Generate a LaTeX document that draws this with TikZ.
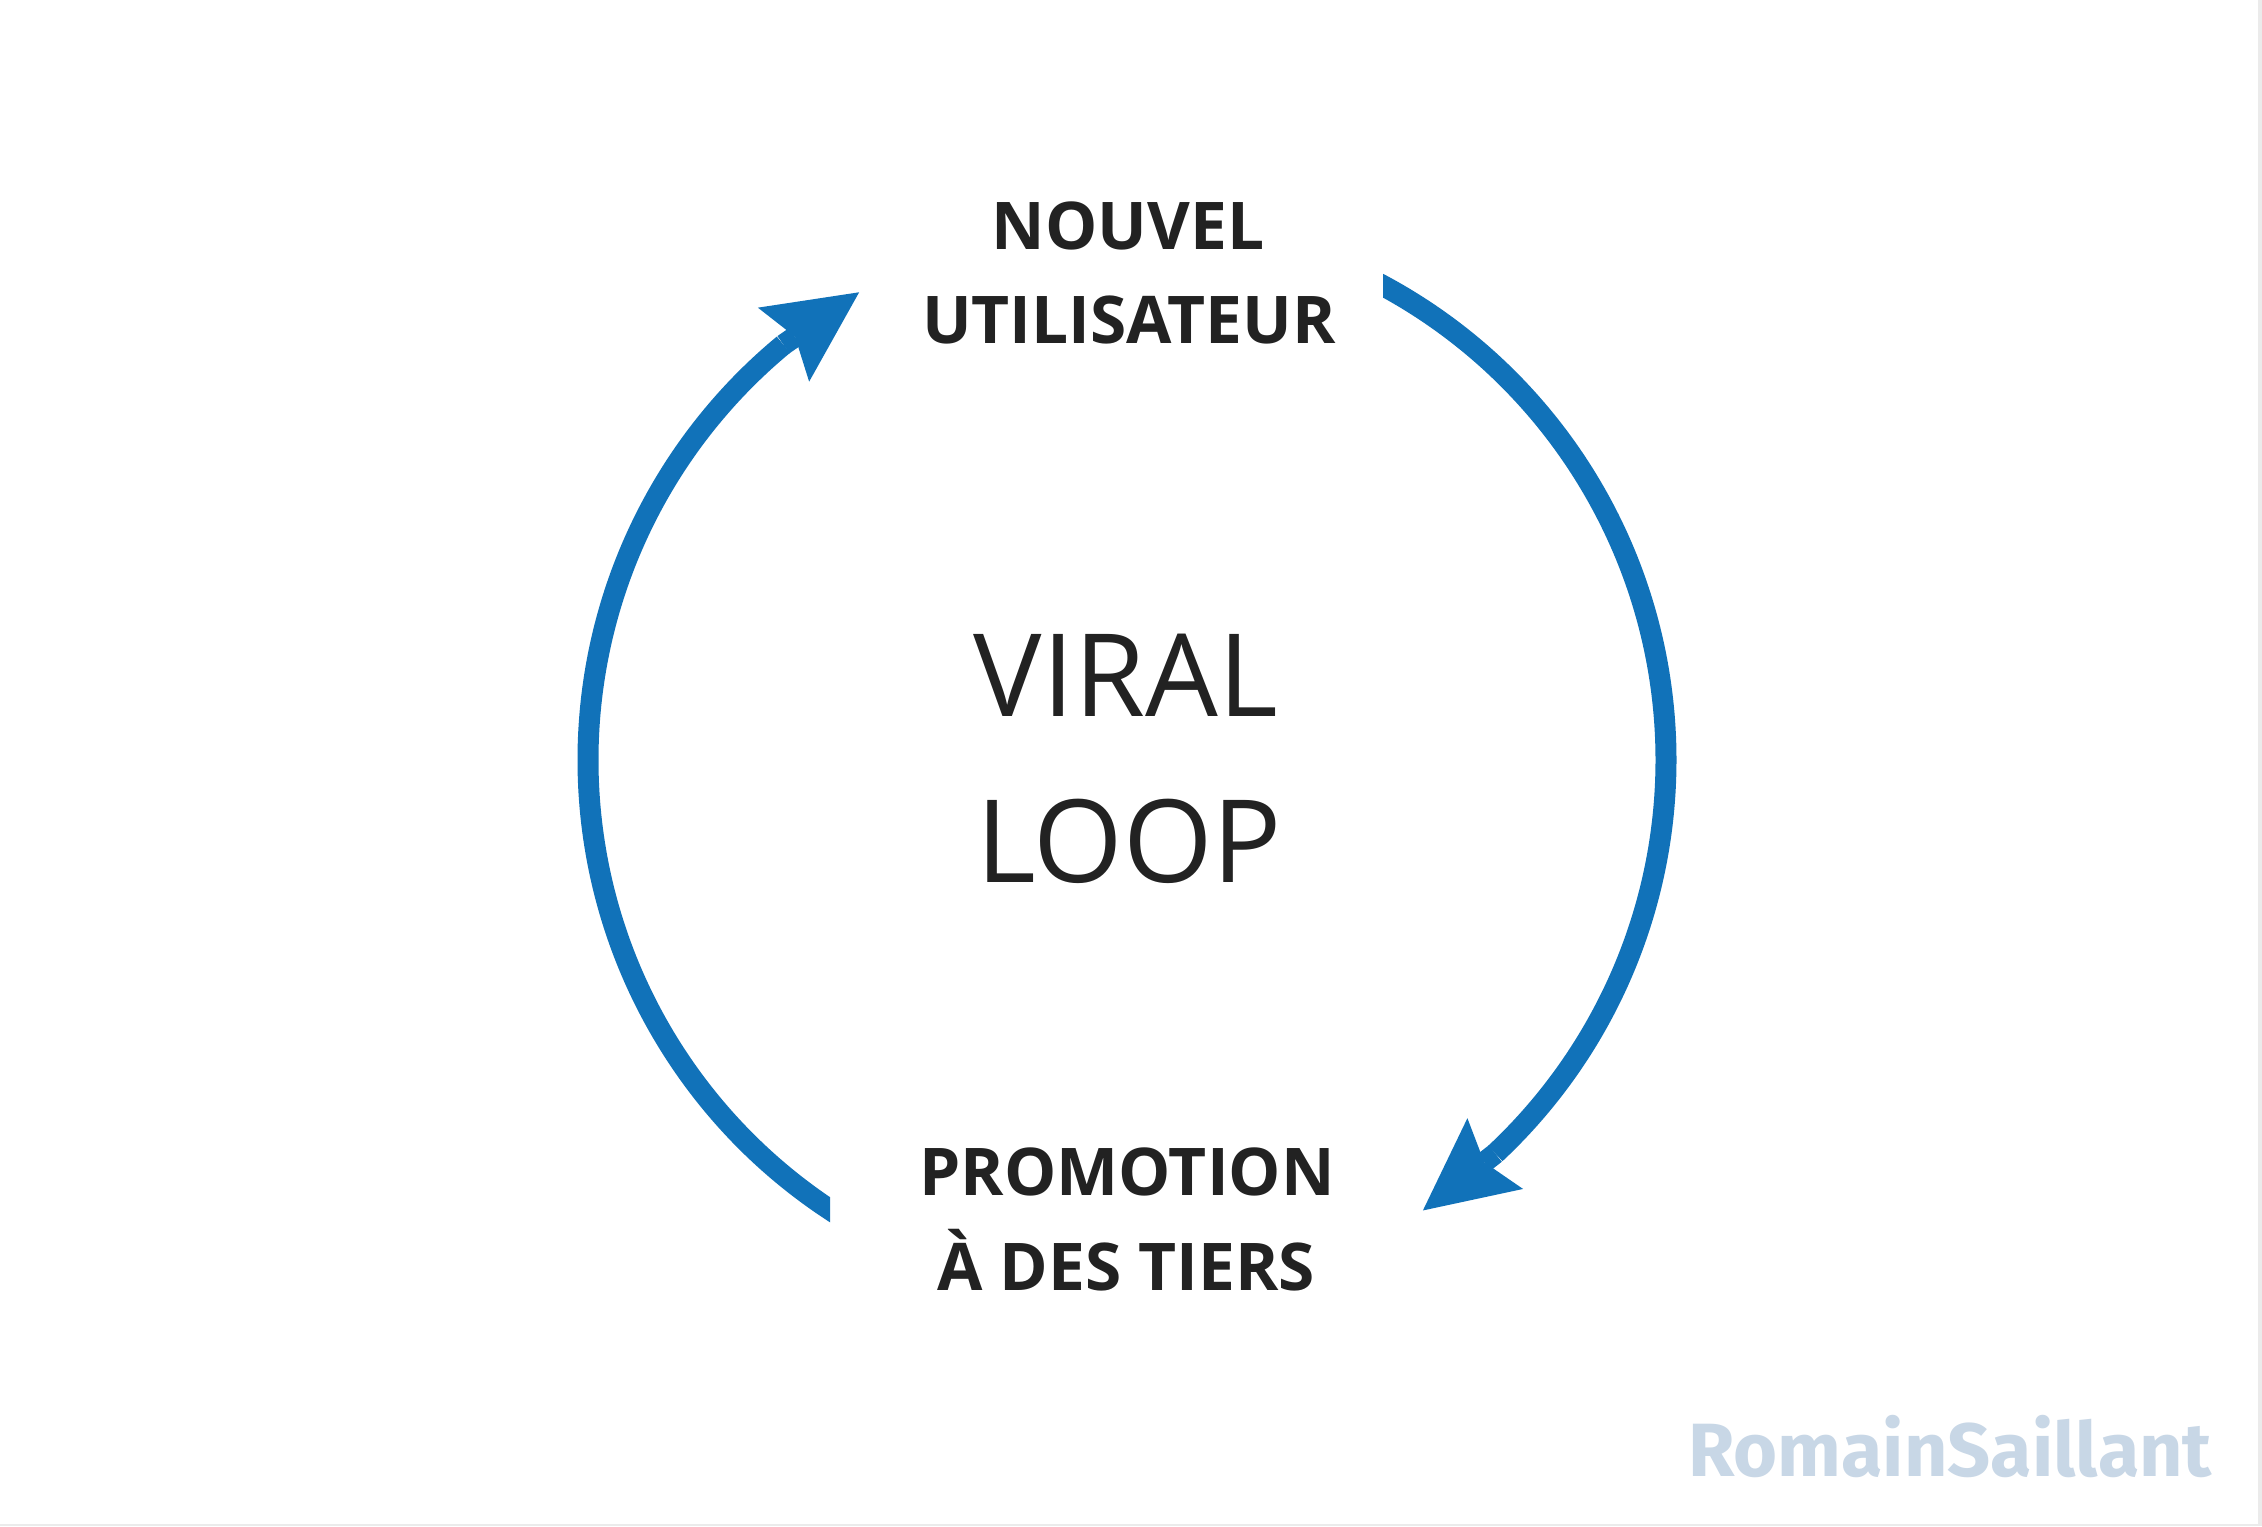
\documentclass[tikz,border=0pt]{standalone}
\usepackage{fontspec}
\usepackage{graphicx}
\setmainfont{Open Sans}
\newfontfamily\wmfont{Fira Sans}
\usetikzlibrary{arrows.meta}
\definecolor{loopblue}{HTML}{1172B9}
\definecolor{inkc}{HTML}{222222}
\definecolor{wmc}{HTML}{C8D7E6}
\definecolor{edgec}{HTML}{EBEBEB}
\begin{document}
\begin{tikzpicture}[x=1pt,y=1pt,
  lbl/.style={inner sep=0pt, anchor=base, text=inkc, font=\bfseries\fontsize{65.8}{79}\selectfont},
  bigtxt/.style={inner sep=0pt, anchor=base, text=inkc, font=\fontsize{115}{138}\selectfont},
  looparc/.style={draw=loopblue, line width=21pt},
  loophead/.style={draw=loopblue, line width=21pt,
    -{Stealth[length=92pt,width=90pt,inset=14pt,line width'=0pt]}}]
\useasboundingbox (0,0) rectangle (2262,1526);
\fill[white] (0,0) rectangle (2262,1526);
\fill[edgec] (2258,0) rectangle (2262,1526);
\fill[edgec] (0,0) rectangle (2262,2);
\coordinate (c) at (1127,766);
% arrow geometry
\coordinate (rback) at ([shift={(-46.9:539)}]c);
\coordinate (rtip)  at ([shift={(-56.7:539)}]c);
\coordinate (lback) at ([shift={(129.6:539)}]c);
\coordinate (ltip)  at ([shift={(119.8:539)}]c);
% right arc: new user -> promotion
\begin{scope}
  \clip (1383,0) rectangle (2262,1526);
  \draw[looparc] ([shift={(65:539)}]c) arc[start angle=65, end angle=-46.9, radius=539];
\end{scope}
\draw[loophead] (rback) -- (rtip);
% left arc: promotion -> new user
\begin{scope}
  \clip (0,0) -- (830,0) -- (830,766) -- (1000,766) -- (1000,1526) -- (0,1526) -- cycle;
  \draw[looparc] ([shift={(242:539)}]c) arc[start angle=242, end angle=129.6, radius=539];
\end{scope}
\draw[loophead] (lback) -- (ltip);
% labels
\node[lbl] (top1) at (1128,1276) {NOUVEL};
\node[lbl] (top2) at (1129,1182) {UTILISATEUR};
\node[bigtxt] (mid1) at (1126,809) {VIRAL};
\node[bigtxt] (mid2) at (1129,643) {LOOP};
\node[lbl] (bot1) at (1127,330) {PROMOTION};
\node[lbl] (bot2) at (1126,235) {À DES TIERS};
\node[inner sep=0pt, anchor=base, text=wmc, font=\wmfont\bfseries\fontsize{75.5}{90}\selectfont] (wm) at (1950,49) {RomainSaillant};
\end{tikzpicture}
\end{document}
